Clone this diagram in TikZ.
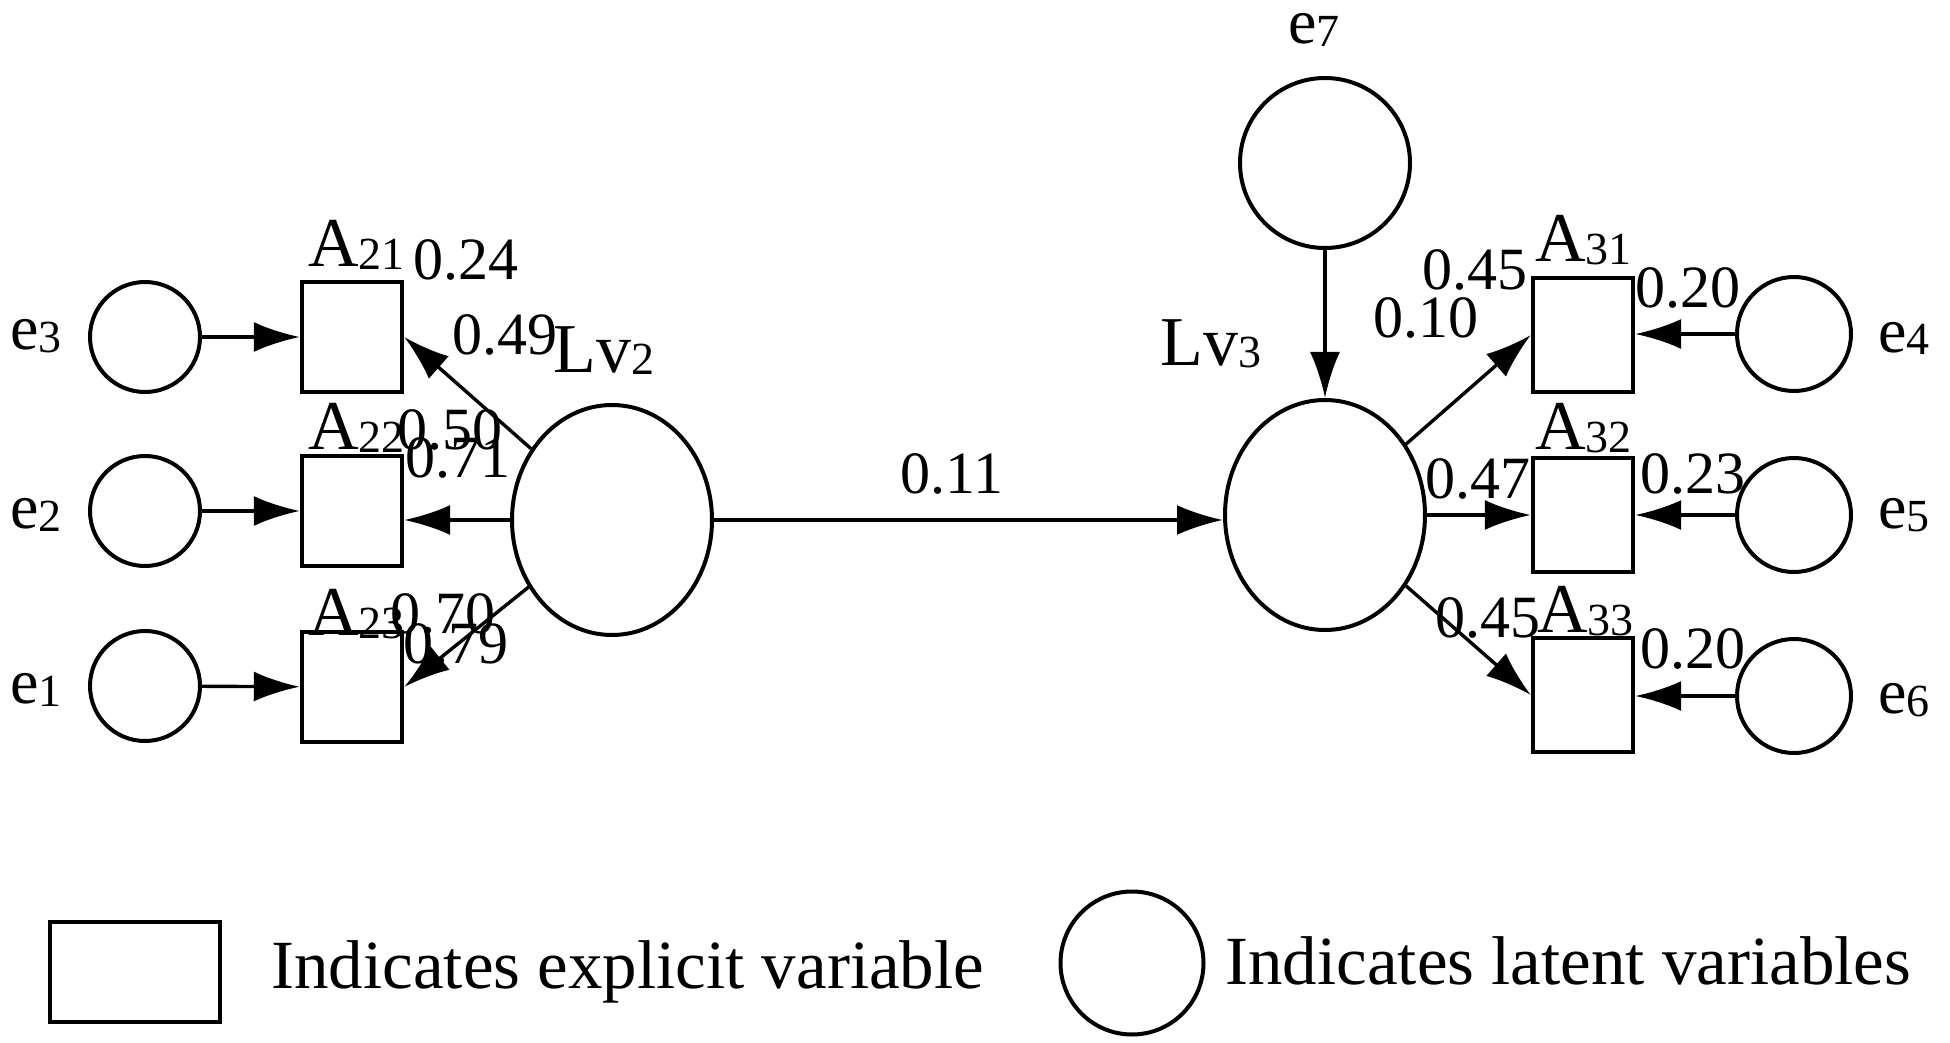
\documentclass[tikz,border=0pt]{standalone}
\usepackage{fontspec}
\setmainfont{Liberation Serif}
\usetikzlibrary{arrows.meta,shapes.geometric}
\newcommand\sbs[1]{\raisebox{-1.5pt}{\fontsize{23}{23}\selectfont #1}}
\begin{document}
\begin{tikzpicture}[x=0.5pt,y=-0.5pt,
  lat/.style={draw, circle, line width=2pt, minimum size=55pt, inner sep=0pt},
  latv/.style={draw, ellipse, line width=2pt, minimum width=100pt, minimum height=115pt, inner sep=0pt},
  obs/.style={draw, rectangle, line width=2.2pt, minimum width=50pt, minimum height=55pt, inner sep=0pt},
  lab/.style={anchor=base west, inner sep=0pt, font=\fontsize{30}{30}\selectfont},
  big/.style={anchor=base west, inner sep=0pt, font=\fontsize{35}{35}\selectfont},
  elab/.style={anchor=base west, inner sep=0pt, font=\fontsize{32}{32}\selectfont},
  legtext/.style={anchor=base west, inner sep=0pt, font=\fontsize{34.5}{36}\selectfont},
  arr/.style={line width=1.7pt, -{Latex[length=23pt,width=15pt]}}
]
\useasboundingbox[fill=white] (0,0) rectangle (1950,1043);

% left error terms
\node[lat] (e3) at (145,337) {};
\node[lat] (e2) at (145,511) {};
\node[lat] (e1) at (145,686) {};
% left indicators
\node[obs] (A21) at (352,337) {};
\node[obs] (A22) at (352,511) {};
\node[obs] (A23) at (352,687) {};
% latent variables
\node[latv] (Lv2) at (612,520) {};
\node[latv] (Lv3) at (1325,515) {};
\node[lat, minimum size=85pt] (e7) at (1325,163) {};
% right indicators
\node[obs, minimum height=57pt] (A31) at (1583,335) {};
\node[obs, minimum height=57pt] (A32) at (1583,515) {};
\node[obs, minimum height=57pt] (A33) at (1583,695) {};
% right error terms
\node[lat, minimum size=57pt] (e4) at (1794,334) {};
\node[lat, minimum size=57pt] (e5) at (1794,515) {};
\node[lat, minimum size=57pt] (e6) at (1794,696) {};

% connectors
\draw[arr] (e3) -- (A21);
\draw[arr] (e2) -- (A22);
\draw[arr] (e1) -- (A23);
\draw[arr] (Lv2) -- (A21.east);
\draw[arr] (Lv2.west) -- (Lv2.west -| A22.east);
\draw[arr] (Lv2) -- (A23.east);
\draw[arr] (Lv2.east) -- (Lv2.east -| Lv3.west);
\draw[arr] (e7) -- (Lv3);
\draw[arr] (Lv3) -- (A31.west);
\draw[arr] (Lv3.east) -- (Lv3.east -| A32.west);
\draw[arr] (Lv3) -- (A33.west);
\draw[arr] (e4.west) -- (e4.west -| A31.east);
\draw[arr] (e5.west) -- (e5.west -| A32.east);
\draw[arr] (e6.west) -- (e6.west -| A33.east);

% labels
\node[elab] (le3) at (10,350) {e\sbs{3}};
\node[elab] (le2) at (10,528) {e\sbs{2}};
\node[elab] (le1) at (10,703) {e\sbs{1}};
\node[big] (lA21) at (308,267) {A\sbs{21}};
\node[lab] (w1) at (413,280) {0.24};
\node[lab] (w2) at (452,355) {0.49};
\node[big] (lLv2) at (553,372) {Lv\sbs{2}};
\node[big] (lA22) at (308,450) {A\sbs{22}};
\node[lab] (w3) at (397,450) {0.50};
\node[lab] (w4) at (405,477) {0.71};
\node[big] (lA23) at (308,635) {A\sbs{23}};
\node[lab] (w5) at (390,633) {0.70};
\node[lab] (w6) at (403,663) {0.79};
\node[lab] (w7) at (900,493) {0.11};
\node[big] (lLv3) at (1160,365) {Lv\sbs{3}};
\node[elab] (le7) at (1288,44) {e\sbs{7}};
\node[lab] (w8) at (1422,290) {0.45};
\node[big] (lA31) at (1535,262) {A\sbs{31}};
\node[lab] (w9) at (1373,338) {0.10};
\node[lab] (w10) at (1635,307) {0.20};
\node[big] (lA32) at (1535,450) {A\sbs{32}};
\node[lab] (w11) at (1425,498) {0.47};
\node[lab] (w12) at (1640,493) {0.23};
\node[lab] (w13) at (1435,637) {0.45};
\node[big] (lA33) at (1537,632) {A\sbs{33}};
\node[lab] (w14) at (1640,668) {0.20};
\node[elab] (le4) at (1878,352) {e\sbs{4}};
\node[elab] (le5) at (1878,528) {e\sbs{5}};
\node[elab] (le6) at (1878,713) {e\sbs{6}};

% legend
\node[obs, minimum width=85pt, minimum height=50pt] (legbox) at (135,972) {};
\node[legtext] (leg1) at (271,988) {Indicates explicit variable};
\node[lat, minimum size=71.5pt] (legcirc) at (1132,963) {};
\node[legtext] (leg2) at (1225,984) {Indicates latent variables};
\end{tikzpicture}
\end{document}
